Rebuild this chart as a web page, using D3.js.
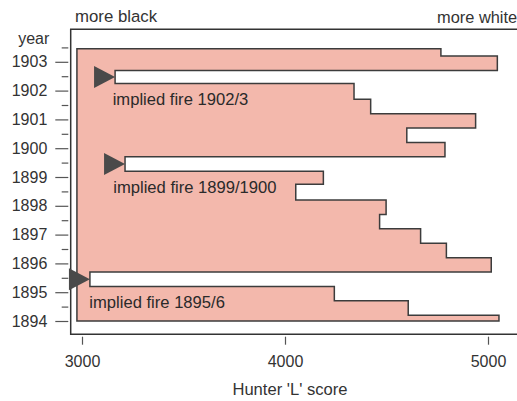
<!DOCTYPE html>
<html>
<head>
<meta charset="utf-8">
<script src="https://cdn.jsdelivr.net/npm/d3@7"></script>
<style>
  html, body { margin: 0; padding: 0; background: #ffffff; }
  svg { display: block; font-family: "Liberation Sans", Arial, Helvetica, sans-serif; }
</style>
</head>
<body>
<svg id="chart" width="517" height="401"></svg>
<script>
// Hunter 'L' score through time, one value per part-year period (bottom to top)
const periodBreaks = [1894.0, 1894.2, 1894.7, 1895.2, 1895.7, 1896.2, 1896.7, 1897.2, 1897.7,
                      1898.2, 1898.75, 1899.2, 1899.7, 1900.2, 1900.7, 1901.2, 1901.7,
                      1902.25, 1902.7, 1903.2, 1903.45];
const scores = [5054, 4607, 4243, 3039, 5016, 4795, 4668, 4466, 4498, 4053,
                4189, 3212, 4788, 4600, 4939, 4422, 4340, 3163, 5046, 4768];
const baselineScore = 2975;

// axis ticks
const yearTicks = [1894, 1895, 1896, 1897, 1898, 1899, 1900, 1901, 1902, 1903];
const halfYearTicks = [1894.5, 1895.5, 1896.5, 1897.5, 1898.5, 1899.5, 1900.5, 1901.5, 1902.5, 1903.5];
const scoreTicks = [3000, 4000, 5000];

// dark periods flagged as fires
const fireLabels = ["implied fire 1895/6", "implied fire 1899/1900", "implied fire 1902/3"];
const firePeriodIndex = [3, 11, 17];
const fireLabelScores = [3036, 3154, 3151];

const svg = d3.select("#chart");

// plot frame
const frame = { left: 70.7, top: 29.3, bottom: 334.3, right: 520 };

const x = d3.scaleLinear().domain([3000, 5000]).range([82, 488]);
const y = d3.scaleLinear().domain([1894, 1903]).range([321, 61.8]);

// stepped outline of the score profile, filled back to the baseline
const pts = [[baselineScore, periodBreaks[0]]];
scores.forEach((s, i) => {
  pts.push([s, periodBreaks[i]]);
  pts.push([s, periodBreaks[i + 1]]);
});
pts.push([baselineScore, periodBreaks[periodBreaks.length - 1]]);

const line = d3.line().x(d => x(d[0])).y(d => y(d[1]));

svg.append("path")
  .attr("d", line(pts) + "Z")
  .attr("fill", "#f3b8ac")
  .attr("stroke", "#3c3c3c")
  .attr("stroke-width", 1.5)
  .attr("stroke-linejoin", "miter");

// frame (open on the right)
svg.append("path")
  .attr("d", `M${frame.right},${frame.top}H${frame.left}V${frame.bottom}H${frame.right}`)
  .attr("fill", "none")
  .attr("stroke", "#333")
  .attr("stroke-width", 1.5);

// y axis: years with half-year minor ticks
const yAxis = svg.append("g")
  .attr("transform", `translate(${frame.left - 2.4},0)`)
  .call(d3.axisLeft(y).tickValues(yearTicks).tickFormat(d3.format("d")).tickSize(13).tickPadding(8));
const yMinor = svg.append("g")
  .attr("transform", `translate(${frame.left - 2.4},0)`)
  .call(d3.axisLeft(y).tickValues(halfYearTicks).tickFormat("").tickSize(6.6));

// x axis
const xAxis = svg.append("g")
  .attr("transform", `translate(0,${frame.bottom + 2.4})`)
  .call(d3.axisBottom(x).tickValues(scoreTicks).tickFormat(d3.format("d")).tickSize(8).tickPadding(10.5));

[yAxis, yMinor, xAxis].forEach(g => {
  g.select(".domain").remove();
  g.selectAll(".tick line").attr("stroke", "#555").attr("stroke-width", 1.2);
  g.selectAll(".tick text").attr("fill", "#333").attr("font-size", 16)
    .attr("font-family", "\"Liberation Sans\", Arial, sans-serif");
});

// fire markers and labels
firePeriodIndex.forEach((pi, k) => {
  const tipX = x(scores[pi]);
  const midY = y((periodBreaks[pi] + periodBreaks[pi + 1]) / 2);
  svg.append("path")
    .attr("d", `M${tipX},${midY}L${tipX - 21},${midY - 11}L${tipX - 21},${midY + 11}Z`)
    .attr("fill", "#4a4a4a");
  svg.append("text")
    .attr("x", x(fireLabelScores[k]))
    .attr("y", y(periodBreaks[pi]) + 22)
    .attr("font-size", 16.6)
    .attr("fill", "#2a2a2a")
    .text(fireLabels[k]);
});

// axis titles and direction notes
svg.append("text").attr("x", 49.3).attr("y", 44.3).attr("text-anchor", "end")
  .attr("font-size", 16).attr("fill", "#333").text("year");
svg.append("text").attr("x", 75).attr("y", 21.7)
  .attr("font-size", 16.8).attr("fill", "#333").text("more black");
svg.append("text").attr("x", 437).attr("y", 23)
  .attr("font-size", 16.4).attr("fill", "#333").text("more white");
svg.append("text").attr("x", 290).attr("y", 395).attr("text-anchor", "middle")
  .attr("font-size", 16.6).attr("fill", "#333").text("Hunter 'L' score");
</script>
</body>
</html>
